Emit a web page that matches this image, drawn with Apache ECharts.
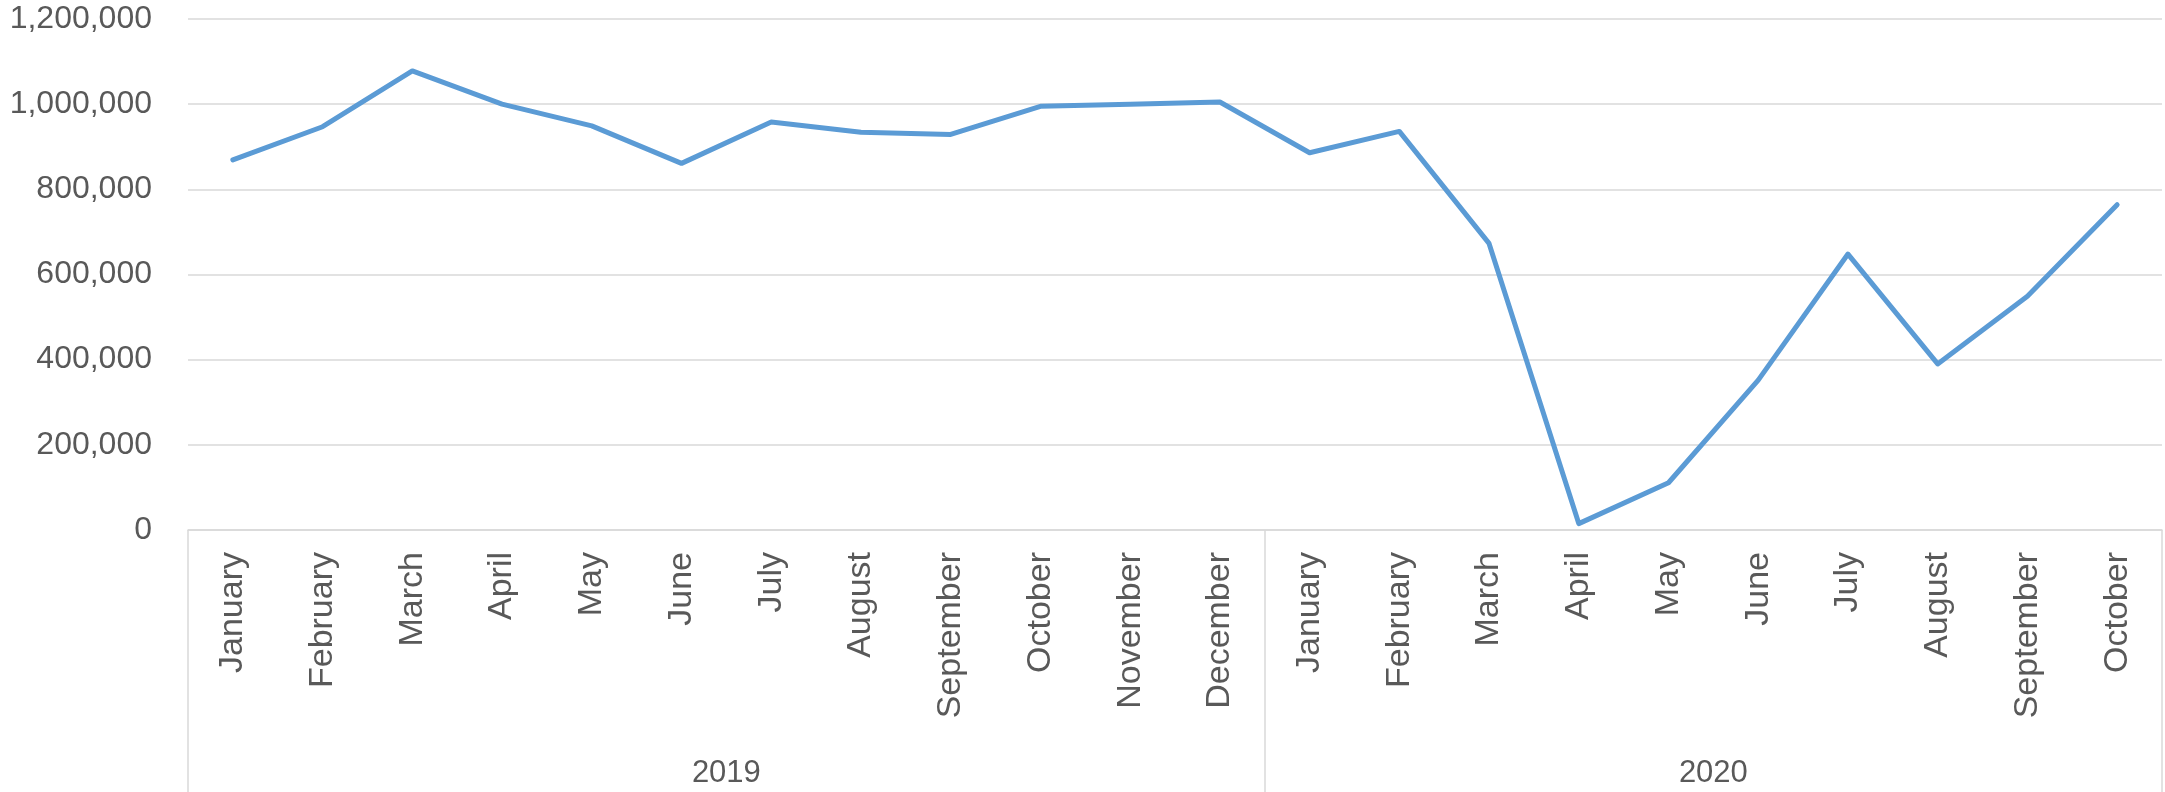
<!DOCTYPE html>
<html>
<head>
<meta charset="utf-8">
<script src="https://cdn.jsdelivr.net/npm/echarts@6/dist/echarts.min.js"></script>
<style>
  html, body { margin: 0; padding: 0; background: #fff; }
  #main { width: 2165px; height: 792px; }
</style>
</head>
<body>
<div id="main"></div>
<script>
// month labels (two years, 2019 full + 2020 up to October)
var months = ['January', 'February', 'March', 'April', 'May', 'June', 'July', 'August',
  'September', 'October', 'November', 'December',
  'January', 'February', 'March', 'April', 'May', 'June', 'July', 'August',
  'September', 'October'];
var years = ['2019', '2020'];
var monthsPerYear = [12, 10];

// monthly values
var values = [869000, 947000, 1078000, 1000000, 949000, 861000, 958000, 934000,
  929000, 995000, 1000000, 1005000,
  886000, 936000, 673000, 15000, 111000, 352000, 648000, 390000, 549000, 764000];

var yTicks = [0, 200000, 400000, 600000, 800000, 1000000, 1200000];

// one year per month slot, used for the group separators
var yearSlots = [];
years.forEach(function (y, i) {
  for (var k = 0; k < monthsPerYear[i]; k++) yearSlots.push(y);
});
// centre of each year group, in month units
var yearCenters = {};
var start = 0;
years.forEach(function (y, i) {
  yearCenters[start + monthsPerYear[i] / 2] = y;
  start += monthsPerYear[i];
});

var textColor = '#595959';
var gridColor = '#d9d9d9';

var chart = echarts.init(document.getElementById('main'));
chart.setOption({
  animation: false,
  grid: { left: 188, right: 3, top: 19, bottom: 262, containLabel: false },
  xAxis: [
    {
      type: 'category',
      data: months,
      boundaryGap: true,
      axisLine: { show: true, lineStyle: { color: gridColor, width: 1.5 } },
      axisTick: { show: false },
      axisLabel: {
        interval: 0, rotate: 90, margin: 22,
        color: textColor, fontFamily: 'Liberation Sans', fontSize: 34
      }
    },
    {
      type: 'category',
      data: yearSlots,
      position: 'bottom',
      boundaryGap: true,
      axisLine: { show: false },
      axisLabel: { show: false },
      axisTick: {
        show: true, length: 262,
        interval: function (idx) { return idx === 0 || yearSlots[idx] !== yearSlots[idx - 1]; },
        lineStyle: { color: gridColor, width: 1.5 }
      }
    },
    {
      type: 'value',
      position: 'bottom',
      min: 0, max: months.length, interval: 1,
      axisLine: { show: false },
      axisTick: { show: false },
      splitLine: { show: false },
      axisLabel: {
        margin: 228,
        color: textColor, fontFamily: 'Liberation Sans', fontSize: 31,
        showMinLabel: true, showMaxLabel: true,
        formatter: function (v) { return yearCenters[v] || ''; }
      }
    }
  ],
  yAxis: {
    type: 'value',
    min: yTicks[0], max: yTicks[yTicks.length - 1], interval: 200000,
    axisLine: { show: false },
    axisTick: { show: false },
    splitLine: { lineStyle: { color: gridColor, width: 1.5 } },
    axisLabel: {
      margin: 36, color: textColor, fontFamily: 'Liberation Sans', fontSize: 32,
      formatter: function (v) { return v.toLocaleString('en-US'); }
    }
  },
  series: [{
    type: 'line',
    data: values,
    xAxisIndex: 0,
    symbol: 'none',
    lineStyle: { color: '#5b9bd5', width: 5, cap: 'round', join: 'round' }
  }]
});
</script>
</body>
</html>
